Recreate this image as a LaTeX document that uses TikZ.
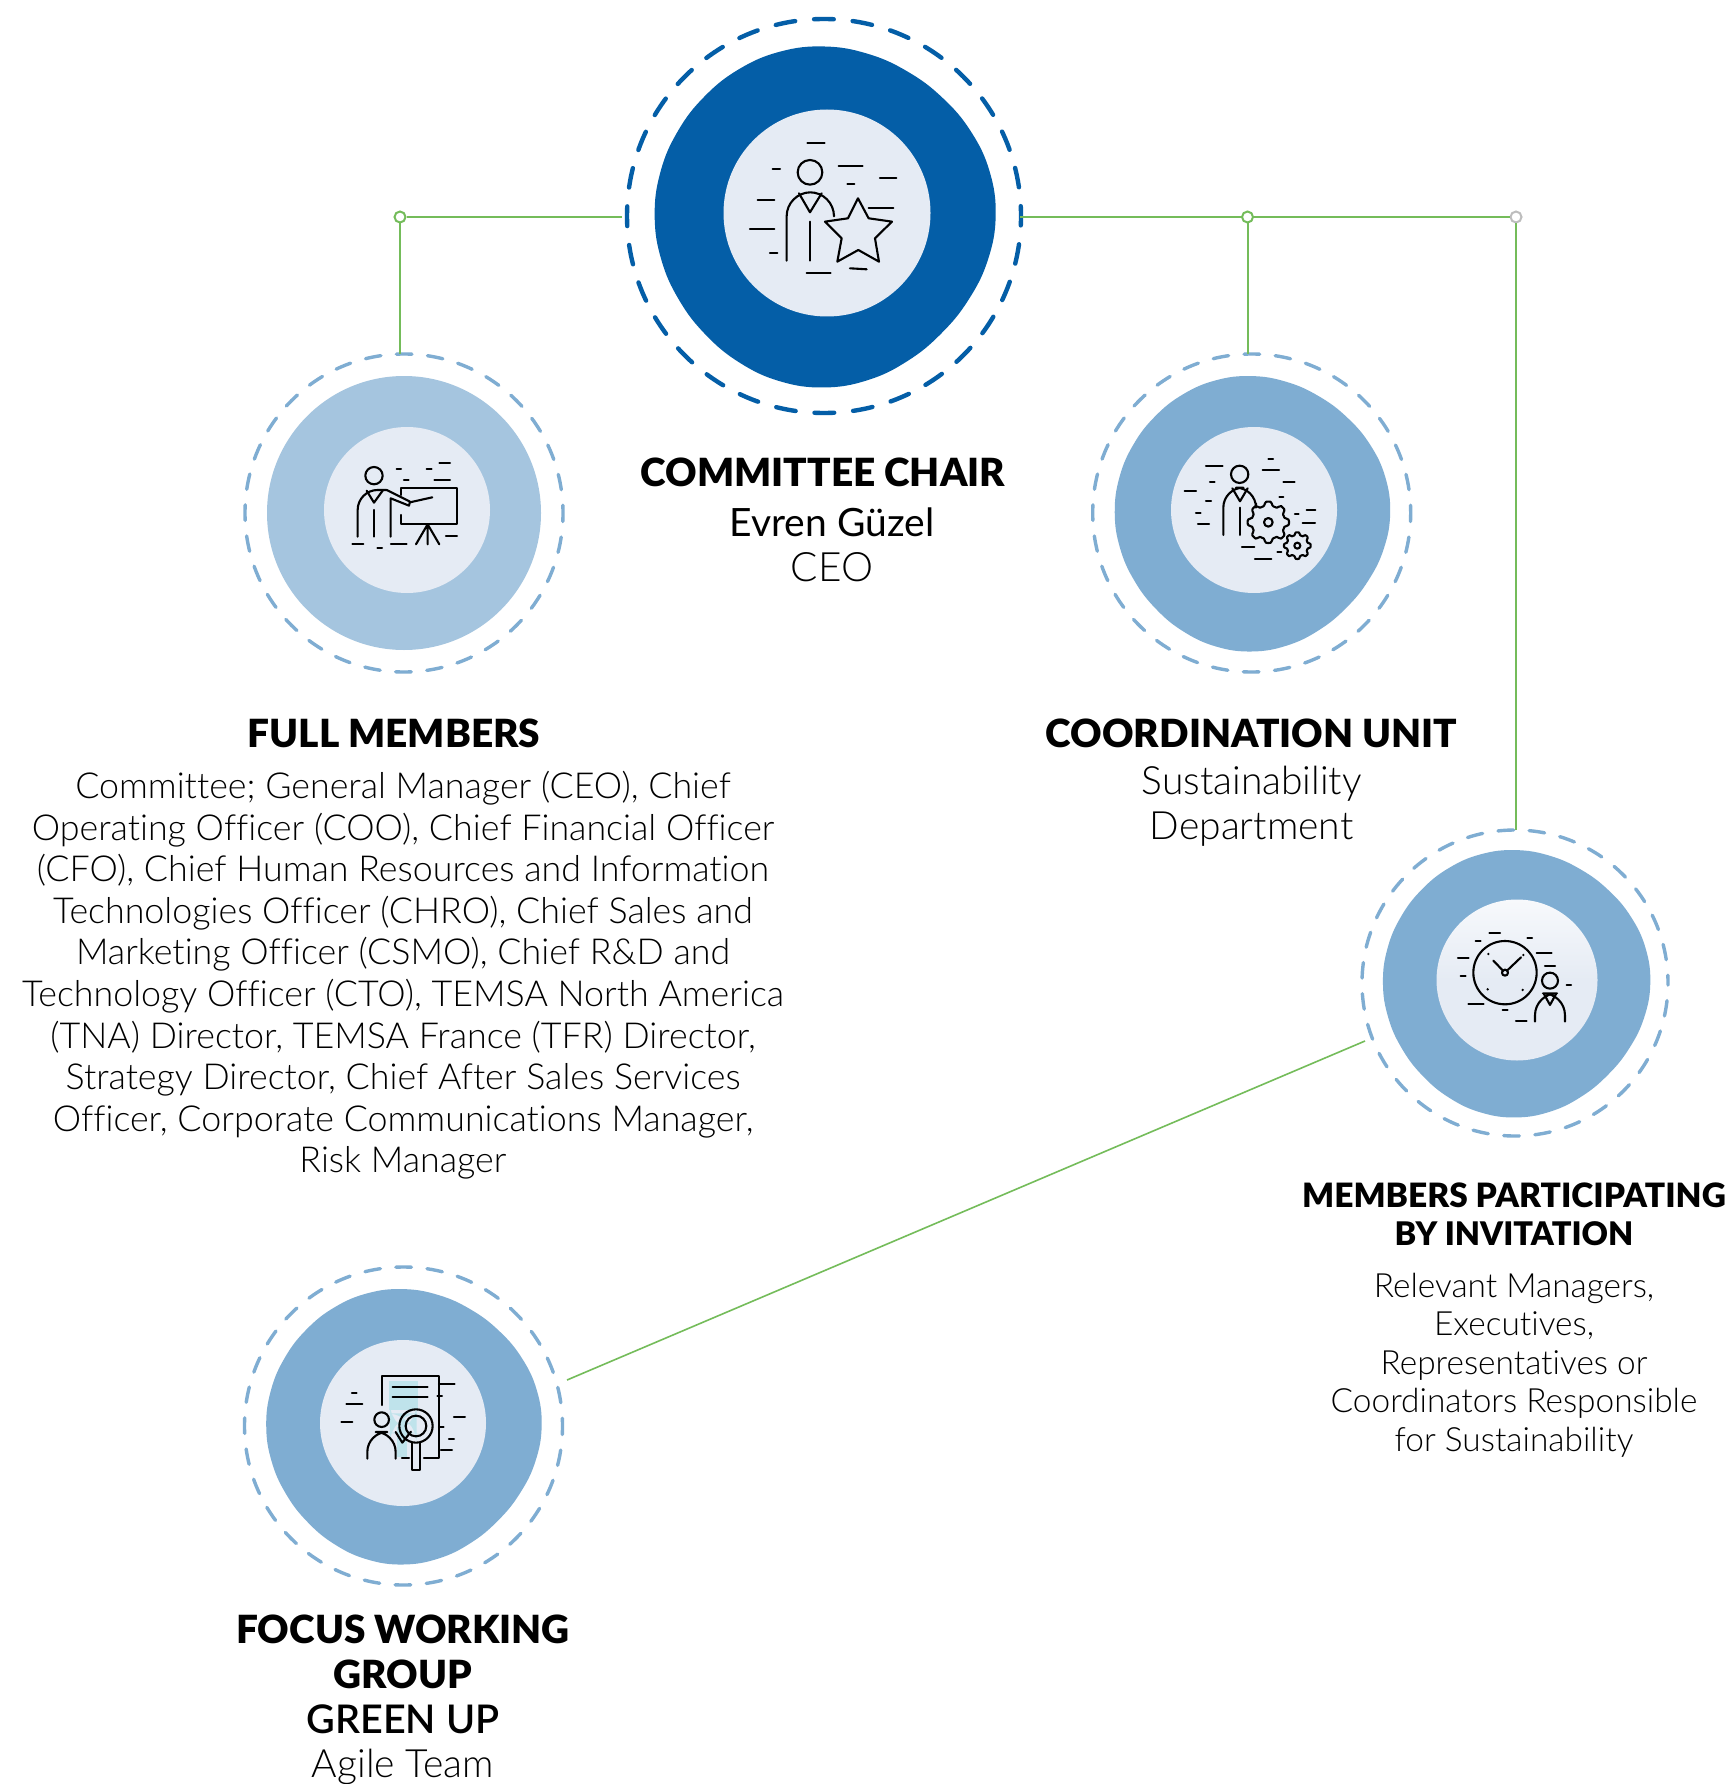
\documentclass[tikz,border=0pt]{standalone}
\usepackage{fontspec}
\setmainfont{Lato}
\newfontfamily\lightf[Ligatures=NoCommon]{Lato Light}
\newfontfamily\regf[Ligatures=NoCommon]{Lato}
\newfontfamily\semif[Ligatures=NoCommon]{Lato Semibold}
\newfontfamily\boldf[Ligatures=NoCommon]{Lato Black}
\definecolor{dkblue}{HTML}{045EA7}
\definecolor{mdblue}{HTML}{7FADD2}
\definecolor{ltblue}{HTML}{A5C5DF}
\definecolor{innerc}{HTML}{E5EBF4}
\definecolor{lnk}{HTML}{74BC5A}
\definecolor{jgray}{HTML}{BDBDBD}
\definecolor{tealc}{HTML}{BFE3EB}
\tikzset{
  ringbig/.style={circle,draw=dkblue,line width=4.4pt,line cap=round,inner sep=0pt,outer sep=0pt,minimum size=394pt,dash pattern=on 19.7pt off 19pt,dash phase=9.85pt},
  ringsmall/.style={circle,draw=mdblue,line width=3.4pt,line cap=round,inner sep=0pt,outer sep=0pt,minimum size=#1,dash pattern=on 15.6pt off 15.6pt,dash phase=7.8pt},
  ringsmall/.default=318pt,
  lnkline/.style={draw=lnk,line width=2pt},
  junc/.style={circle,draw=lnk,line width=2pt,fill=white,inner sep=0pt,minimum size=11pt},
  ttl/.style={align=center,font=\boldf\fontsize{38.8}{42}\selectfont,inner sep=0pt,anchor=base},
  bdy/.style={align=center,font=\lightf\fontsize{35.8}{42}\selectfont,inner sep=0pt,anchor=base},
  bdyb/.style={align=center,font=\lightf\fontsize{39}{42}\selectfont,inner sep=0pt,anchor=base},
  ico/.style={line width=2.1pt,draw=black,line cap=round,line join=round},
  inn/.style={fill=innerc,draw=none},
}
% blob: cx cy R colour
\newcommand{\blobat}[4]{\fill[#4] plot[smooth cycle,tension=.7,domain=0:345,samples=24]
  ({#1+#3*(1+0.009*cos(4*\x+10)+0.009*cos(3*\x+40))*cos(\x)},{#2+#3*(1+0.009*cos(4*\x+10)+0.009*cos(3*\x+40))*sin(\x)});}
\newcommand{\dsh}[1]{\foreach \a/\b/\c/\d in {#1}{\draw[ico] (\a,\b)--(\c,\d);}}
\newcommand{\gearat}[5]{\draw[ico] plot[smooth cycle,tension=.6,domain=0:356,samples=90]
  ({#1+(#3+#4)/2*cos(\x)+(#3-#4)/2*min(1,max(-1,1.8*cos(8*\x+#5)))*cos(\x)},{#2+(#3+#4)/2*sin(\x)+(#3-#4)/2*min(1,max(-1,1.8*cos(8*\x+#5)))*sin(\x)});}
\begin{document}
\begin{tikzpicture}[x=1pt,y=-1pt]
\useasboundingbox (0,0) rectangle (1727,1784);
\fill[white] (0,0) rectangle (1727,1784);

% blobs
\blobat{824}{216}{169}{dkblue}
\fill[ltblue] (404,513) circle (137pt);
\blobat{1251.5}{513}{136.5}{mdblue}
\blobat{1515.7}{983}{132.5}{mdblue}
\blobat{403}{1426}{136.5}{mdblue}
% inner discs
\fill[inn] (827,213) circle (103.5pt);
\fill[inn] (407,510) circle (83pt);
\fill[inn] (1254,510) circle (83pt);
\shade[top color=white!70!innerc,bottom color=innerc,middle color=innerc] (1517,980) circle (80.5pt);
\fill[inn] (403,1423) circle (83pt);

% rings
\node[ringbig] (chair) at (824,216) {};
\node[ringsmall] (full) at (404,513) {};
\node[ringsmall] (coord) at (1251.7,513) {};
\node[ringsmall=306pt] (members) at (1515,983) {};
\node[ringsmall] (focus) at (403.5,1426) {};

% connectors
\node[junc] (jl) at (400,217) {};
\node[junc] (jm) at (1247.5,217) {};
\node[junc,draw=jgray] (jr) at (1516,217) {};
\coordinate (chairL) at (622,217);
\coordinate (chairR) at (1020,217);
\coordinate (membersEnd) at (1365,1041);
\coordinate (focusEnd) at (567,1380);
\draw[lnkline] (chairL) -- (jl);
\draw[lnkline] (jl) -- (jl |- full.north);
\draw[lnkline] (chairR) -- (jm);
\draw[lnkline] (jm) -- (jr);
\draw[lnkline] (jm) -- (jm |- coord.north);
\draw[lnkline] (jr) -- (jr |- members.north);
\draw[lnk,line width=1.6pt] (membersEnd) -- (focusEnd);

% icon: chair
\begin{scope}[shift={(600,0)},x=0.3333pt,y=-0.3333pt]
\dsh{622/428/674/428,518/507/540/507,716/498/788/498,840/533/889/533,742/553/763/553,473/601/523/601,806/625/880/625,450/688/523/688,510/760/532/760,620/818/692/818,750/805/800/808}
\draw[ico] (630,517) circle (37);
\draw[ico,rounded corners=24] (560,782)--(560,577)--(702,577)--(702,645);
\draw[ico] (597,580)--(630,637)--(665,580);
\draw[ico] (630,665)--(630,782);
\draw[ico] (774,595)--(806,655)--(876,665)--(825,715)--(837,785)--(775,750)--(712,785)--(725,715)--(675,665)--(744,655)--cycle;
\end{scope}

% icon: full members
\begin{scope}[shift={(230,340)},x=0.3333pt,y=-0.3333pt]
\dsh{628/370/660/370,500/386/513/386,590/386/605/386,522/419/536/419,613/419/660/419,648/589/681/589,367/612/400/612,442/623/456/623,483/612/530/612}
\draw[ico] (432,407) circle (26);
\draw[ico,rounded corners=20] (383,590)--(383,450)--(470,450);
\draw[ico] (470,450)--(540,485)--(537,497)--(482,475)--(482,590);
\draw[ico] (432,510)--(432,590);
\draw[ico] (410,452)--(432,488)--(458,452);
\draw[ico] (540,487)--(607,472);
\draw[ico] (513,465)--(513,444)--(680,444)--(680,553)--(513,553)--(513,525);
\draw[ico] (593,553)--(558,613) (593,553)--(593,613) (593,553)--(628,613);
\end{scope}

% icon: coordination
\begin{scope}[shift={(1080,340)},x=0.3333pt,y=-0.3333pt]
\dsh{378/377/428/377,390/427/404/427,314/454/348/454,378/483/393/483,348/519/362/519,354/553/387/553,565/358/579/358,548/391/597/391,610/427/644/427,598/471/610/471,680/510/706/510,645/523/656/523,668/548/705/548,486/622/523/622,592/635/604/635,525/656/574/656}
\draw[ico] (479,403) circle (26);
\draw[ico,rounded corners=20] (430,585)--(430,443)--(528,443)--(528,490);
\draw[ico] (457,445)--(480,484)--(503,445);
\draw[ico] (480,503)--(480,585);
\gearat{565}{547}{62}{50}{0}
\draw[ico] (565,547) circle (13);
\gearat{652}{617}{40}{32}{0}
\draw[ico] (652,617) circle (9);
\end{scope}

% icon: members by invitation
\begin{scope}[shift={(1350,820)},x=0.3333pt,y=-0.3333pt]
\dsh{418/340/450/340,377/362/392/362,532/355/546/355,324/413/356/413,560/400/605/400,585/437/615/437,332/467/347/467,650/494/663/494,355/552/401/552,458/571/473/571,498/603/530/603}
\draw[ico] (465,458) circle (95);
\draw[ico] (465,458) circle (9);
\draw[ico] (460,453)--(430,422) (471,452)--(513,412);
\fill (415,402) circle (4) (520,405) circle (4) (413,508) circle (4) (518,510) circle (4);
\draw[ico] (600,482) circle (24);
\draw[ico,rounded corners=22] (555,605)--(555,520)--(645,520)--(645,605);
\draw[ico] (582,522)--(600,555)--(618,522);
\end{scope}

% icon: focus group
\begin{scope}[shift={(230,1260)},x=0.3333pt,y=-0.3333pt]
\fill[tealc] (477,363) rectangle (564,450);
\fill[tealc,rounded corners=30] (480,460) rectangle (560,520);
\fill[tealc] (500,500) rectangle (530,590);
\dsh{627/372/674/372,622/409/636/409,627/500/641/500,672/471/705/471,657/537/672/537,633/571/666/571,366/400/380/400,349/433/397/433,334/487/367/487,488/381/593/381,488/410/593/410,516/595/537/595,527/348/575/348}
\draw[ico] (456,435)--(456,348)--(627,348)--(627,595)--(582,595);
\draw[ico] (455,479) circle (22);
\draw[ico,rounded corners=20] (412,596)--(412,516)--(497,516)--(497,596);
\draw[ico] (497,516)--(517,548)--(543,515);
\draw[ico] (558,498) circle (50);
\draw[ico] (558,498) circle (31);
\draw[ico] (547,548)--(547,630)--(570,630)--(570,548);
\end{scope}

% texts
\node[ttl] (t1) at (823,486) {COMMITTEE CHAIR};
\node[bdyb,font=\regf\fontsize{39}{42}\selectfont] (t2) at (832,536) {Evren Güzel};
\node[bdyb,font=\lightf\fontsize{40.5}{42}\selectfont] (t3) at (832,581) {CEO};

\node[ttl] (t4) at (394,747) {FULL MEMBERS};
\foreach \yy/\tt in {
 798/{Committee; General Manager (CEO), Chief},
 840/{Operating Officer (COO), Chief Financial Officer},
 881/{(CFO), Chief Human Resources and Information},
 923/{Technologies Officer (CHRO), Chief Sales and},
 964/{Marketing Officer (CSMO), Chief R\&D and},
 1006/{Technology Officer (CTO), TEMSA North America},
 1048/{(TNA) Director, TEMSA France (TFR) Director,},
 1089/{Strategy Director, Chief After Sales Services},
 1131/{Officer, Corporate Communications Manager,},
 1172/{Risk Manager}}
 {\node[bdy] at (403,\yy) {\tt};}

\node[ttl] (t5) at (1251.6,747) {COORDINATION UNIT};
\node[bdyb] (t6) at (1251.6,794) {Sustainability};
\node[bdyb] (t7) at (1251.6,839) {Department};

\node[ttl,font=\boldf\fontsize{33.5}{38}\selectfont] (t8) at (1514,1207) {MEMBERS PARTICIPATING};
\node[ttl,font=\boldf\fontsize{32.5}{38}\selectfont] (t9) at (1514,1245) {BY INVITATION};
\foreach \yy/\tt in {
 1297/{Relevant Managers,},
 1335/{Executives,},
 1374/{Representatives or},
 1412/{Coordinators Responsible},
 1451/{for Sustainability}}
 {\node[bdy,font=\lightf\fontsize{33.4}{36}\selectfont] at (1514,\yy) {\tt};}

\node[ttl] (t10) at (403,1643) {FOCUS WORKING};
\node[ttl] (t11) at (403,1688) {GROUP};
\node[ttl,font=\semif\fontsize{39.5}{42}\selectfont] (t12) at (403,1733) {GREEN UP};
\node[bdyb] (t13) at (403,1777) {Agile Team};
\end{tikzpicture}
\end{document}
